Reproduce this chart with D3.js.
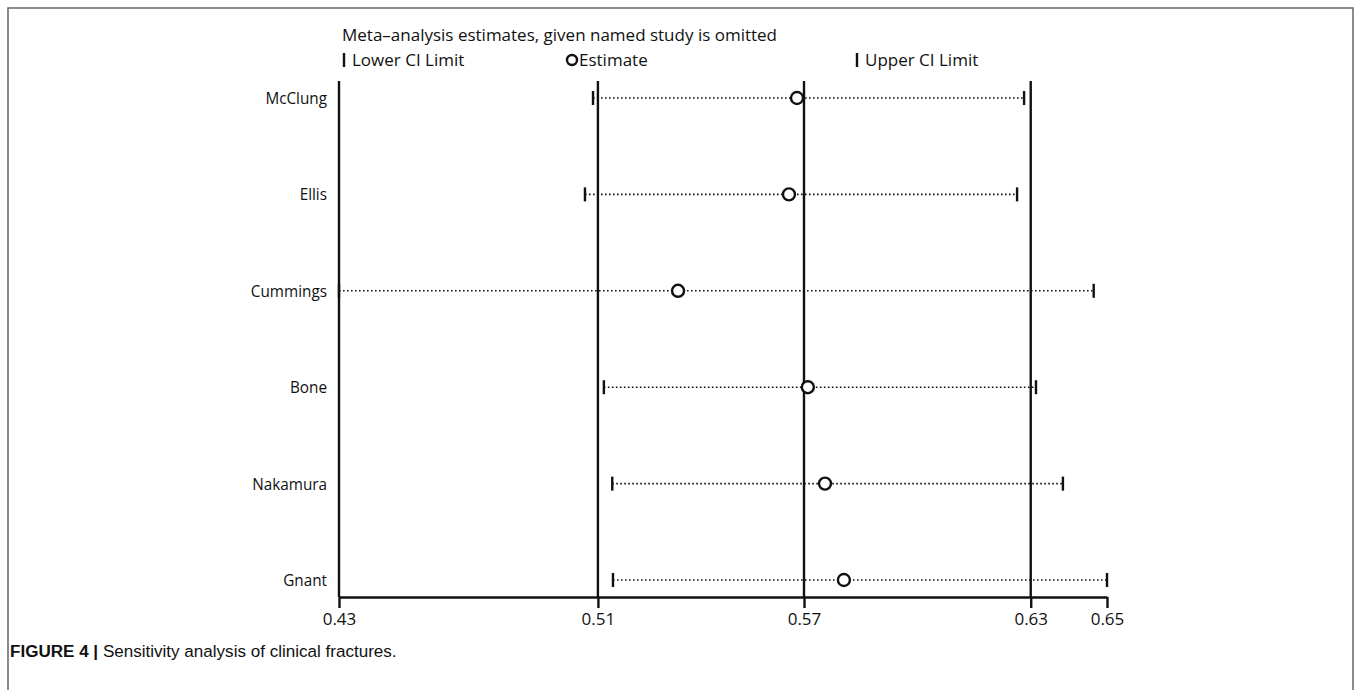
<!DOCTYPE html>
<html>
<head>
<meta charset="utf-8">
<script src="https://cdn.jsdelivr.net/npm/d3@7"></script>
<style>
  body { margin: 0; background: #fff; }
  svg text { font-family: "Open Sans", "Noto Sans", sans-serif; fill: #111; }
</style>
</head>
<body>
<div id="chart"></div>
<script>
// studies omitted one at a time
var studies = ["McClung", "Ellis", "Cummings", "Bone", "Nakamura", "Gnant"];
var lower = [0.5061, 0.5038, 0.4335, 0.5092, 0.5116, 0.5118];
var estimate = [0.5644, 0.5621, 0.5304, 0.5675, 0.5724, 0.5778];
var upper = [0.6293, 0.6273, 0.6492, 0.6327, 0.6404, 0.6530];

// axis ticks: min lower, overall lower CI, overall estimate, overall upper CI, max upper
var tickValues = [0.4335, 0.5075, 0.5664, 0.6312, 0.6530];
var refLines = [0.4335, 0.5075, 0.5664, 0.6312];

var width = 1356, height = 690;
var svg = d3.select("#chart").append("svg")
    .attr("width", width)
    .attr("height", height);

function label(parent, px, py, str, size, anchor, kx) {
    return parent.append("text")
        .attr("transform", `translate(${px},${py}) scale(${kx || 1},1)`)
        .attr("font-size", size)
        .attr("text-anchor", anchor || "start")
        .text(str);
}

// figure frame
svg.append("path")
    .attr("d", "M8,700 L8,8 L1353,8 L1353,700")
    .attr("fill", "none")
    .attr("stroke", "#666")
    .attr("stroke-width", 1.5);

var x = d3.scaleLinear().domain([0.4335, 0.6530]).range([339, 1107]);
var y = d3.scalePoint().domain(studies).range([98, 580]);
var axisY = 597, topY = 81;

// vertical reference lines
svg.selectAll(".ref")
    .data(refLines)
    .enter().append("line")
    .attr("x1", d => x(d)).attr("x2", d => x(d))
    .attr("y1", topY).attr("y2", axisY)
    .attr("stroke", "#111")
    .attr("stroke-width", 2.4);

// x axis
var xAxis = svg.append("g")
    .attr("transform", `translate(0,${axisY})`)
    .call(d3.axisBottom(x).tickValues(tickValues).tickFormat(d3.format(".2f")).tickSize(11).tickSizeOuter(0));
xAxis.select(".domain").attr("stroke", "#111").attr("stroke-width", 2.4);
xAxis.selectAll(".tick line").attr("stroke", "#111").attr("stroke-width", 2.4);
xAxis.selectAll(".tick text")
    .attr("y", 16)
    .attr("font-size", 17)
    .attr("font-family", null)
    .attr("fill", "#111");

var rows = studies.map((s, i) => ({name: s, lo: lower[i], est: estimate[i], hi: upper[i]}));

var g = svg.selectAll(".row")
    .data(rows)
    .enter().append("g")
    .attr("class", "row");

// dotted CI lines
g.append("line")
    .attr("x1", d => x(d.lo)).attr("x2", d => x(d.hi))
    .attr("y1", d => y(d.name)).attr("y2", d => y(d.name))
    .attr("stroke", "#111")
    .attr("stroke-width", 1.6)
    .attr("stroke-dasharray", "1.6,2.4");

// CI end ticks
g.append("line")
    .attr("x1", d => x(d.lo)).attr("x2", d => x(d.lo))
    .attr("y1", d => y(d.name) - 7).attr("y2", d => y(d.name) + 7)
    .attr("stroke", "#111").attr("stroke-width", 2.4);
g.append("line")
    .attr("x1", d => x(d.hi)).attr("x2", d => x(d.hi))
    .attr("y1", d => y(d.name) - 7).attr("y2", d => y(d.name) + 7)
    .attr("stroke", "#111").attr("stroke-width", 2.4);

// estimates
g.append("circle")
    .attr("cx", d => x(d.est))
    .attr("cy", d => y(d.name))
    .attr("r", 6)
    .attr("fill", "#fff")
    .attr("stroke", "#111")
    .attr("stroke-width", 2.4);

// study labels
g.each(function (d) {
    label(d3.select(this), 327, y(d.name) + 6, d.name, 17, "end", 0.9);
});

// header + legend
label(svg, 342, 41, "Meta\u2013analysis estimates, given named study is omitted", 17);

var legend = svg.append("g");
legend.append("line").attr("x1", 344).attr("x2", 344).attr("y1", 53).attr("y2", 67)
    .attr("stroke", "#111").attr("stroke-width", 2.4);
label(legend, 352, 66, "Lower CI Limit", 17);
legend.append("circle").attr("cx", 572).attr("cy", 60).attr("r", 5)
    .attr("fill", "#fff").attr("stroke", "#111").attr("stroke-width", 2.4);
label(legend, 579, 66, "Estimate", 17);
legend.append("line").attr("x1", 857).attr("x2", 857).attr("y1", 53).attr("y2", 67)
    .attr("stroke", "#111").attr("stroke-width", 2.4);
label(legend, 865, 66, "Upper CI Limit", 17);

// caption
var cap = svg.append("text")
    .attr("transform", "translate(10,657)")
    .attr("font-size", 17)
    .style("font-family", "Liberation Sans, Arial, sans-serif");
cap.append("tspan").attr("font-weight", "bold").text("FIGURE 4 | ");
cap.append("tspan").text("Sensitivity analysis of clinical fractures.");
var kc = 387 / cap.node().getComputedTextLength();
cap.attr("transform", `translate(10,657) scale(${kc},1)`);
</script>
</body>
</html>
